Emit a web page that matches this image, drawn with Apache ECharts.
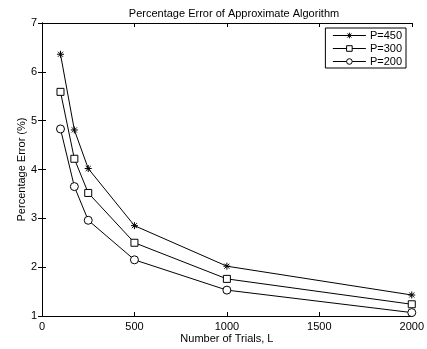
<!DOCTYPE html>
<html>
<head>
<meta charset="utf-8">
<script src="https://cdn.jsdelivr.net/npm/echarts@6/dist/echarts.min.js"></script>
<style>
  html, body { margin: 0; padding: 0; background: #fff; }
  #chart { width: 427px; height: 349px; }
</style>
</head>
<body>
<div id="chart"></div>
<script>
// trials L
const trials = [100, 175, 250, 500, 1000, 2000];
// percentage error for each P
const err450 = [6.36, 4.81, 4.02, 2.85, 2.02, 1.43];
const err300 = [5.59, 4.22, 3.52, 2.50, 1.76, 1.24];
const err200 = [4.83, 3.65, 2.96, 2.15, 1.53, 1.07];

const seriesNames = ["P=450", "P=300", "P=200"];
const fontFamily = "Liberation Sans, Arial, Helvetica, sans-serif";
const star = "path://M0,-5L0,5M-5,0L5,0M-3.6,-3.6L3.6,3.6M-3.6,3.6L3.6,-3.6";

const pairs = ys => trials.map((x, i) => [x, ys[i]]);

const chart = echarts.init(document.getElementById("chart"));

const boxAxis = {
    axisLine: { show: true, lineStyle: { color: "#000", width: 1 } },
    axisTick: { show: true, inside: true, length: 4, lineStyle: { color: "#000" } },
    splitLine: { show: false }
};

const lineSeries = (name, ys, symbol, size) => ({
    name,
    type: "line",
    data: pairs(ys),
    symbol,
    symbolSize: size,
    showAllSymbol: true,
    lineStyle: { color: "#000", width: 1 },
    itemStyle: { color: "#fff", borderColor: "#000", borderWidth: 1 },
    emphasis: { disabled: true },
    animation: false
});

chart.setOption({
    animation: false,
    title: {
        text: "Percentage Error of Approximate Algorithm",
        left: 229,
        textAlign: "center",
        top: 3,
        textStyle: { fontFamily, fontSize: 11, fontWeight: "normal", color: "#000" }
    },
    grid: { left: 42, right: 12, top: 23, bottom: 33 },
    legend: {
        data: seriesNames,
        orient: "vertical",
        right: 21,
        top: 28,
        itemWidth: 33,
        itemHeight: 7,
        itemGap: 2,
        padding: [2, 4, 1, 7],
        borderColor: "#000",
        borderWidth: 1,
        backgroundColor: "#fff",
        lineStyle: { width: 1, color: "#000" },
        itemStyle: { color: "#fff", borderColor: "#000", borderWidth: 1 },
        textStyle: { fontFamily, fontSize: 11, color: "#000", padding: [0, 0, 0, -1] }
    },
    xAxis: [
        {
            ...boxAxis,
            type: "value",
            min: 0,
            max: 2000,
            interval: 500,
            name: "Number of Trials, L",
            nameLocation: "middle",
            nameGap: 17,
            nameMoveOverlap: false,
            nameTextStyle: { fontFamily, fontSize: 11, color: "#000" },
            axisLabel: { fontFamily, fontSize: 11, color: "#000", margin: 5, formatter: v => String(v) }
        },
        {
            ...boxAxis,
            type: "value",
            position: "top",
            min: 0,
            max: 2000,
            interval: 500,
            axisLabel: { show: false }
        }
    ],
    yAxis: [
        {
            ...boxAxis,
            type: "value",
            min: 1,
            max: 7,
            interval: 1,
            name: "Percentage Error (%)",
            nameLocation: "middle",
            nameGap: 15,
            nameMoveOverlap: false,
            nameTextStyle: { fontFamily, fontSize: 11, color: "#000" },
            axisLabel: { fontFamily, fontSize: 11, color: "#000", margin: 5 }
        },
        {
            ...boxAxis,
            type: "value",
            position: "right",
            min: 1,
            max: 7,
            interval: 1,
            axisLabel: { show: false }
        }
    ],
    series: [
        lineSeries(seriesNames[0], err450, star, 7),
        lineSeries(seriesNames[1], err300, "rect", 7),
        lineSeries(seriesNames[2], err200, "circle", 8)
    ]
});
</script>
</body>
</html>
